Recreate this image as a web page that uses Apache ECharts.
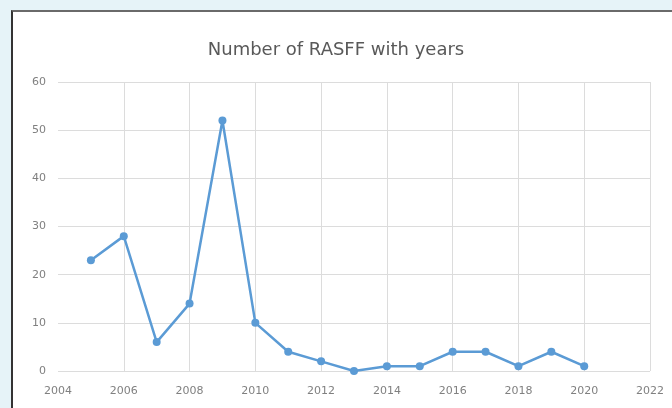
<!DOCTYPE html>
<html>
<head>
<meta charset="utf-8">
<script src="https://cdn.jsdelivr.net/npm/echarts@6/dist/echarts.min.js"></script>
<style>
	html, body { margin: 0; padding: 0; }
	body { width: 672px; height: 408px; background: #e6f3f8; position: relative; overflow: hidden; }
	#frame { position: absolute; left: 11px; top: 10px; width: 680px; height: 420px; background: #fff;
		border-left: 2px solid #333; border-top: 2px solid #6a6a6a; }
	#main { position: absolute; left: 0; top: 0; width: 672px; height: 408px; }
</style>
</head>
<body>
	<div id="frame"></div>
	<div id="main"></div>
<script>
	// RASFF notifications per year
	var years = [2005, 2006, 2007, 2008, 2009, 2010, 2011, 2012, 2013, 2014, 2015, 2016, 2017, 2018, 2019, 2020];
	var counts = [23, 28, 6, 14, 52, 10, 4, 2, 0, 1, 1, 4, 4, 1, 4, 1];

	var points = [];
	for (var i = 0; i < years.length; i++) {
		points.push([years[i], counts[i]]);
	}

	var myChart = echarts.init(document.getElementById('main'));
	var option = {
		animation: false,
		title: {
			text: 'Number of RASFF with years',
			left: 'center',
			top: 36,
			textStyle: { color: '#595959', fontSize: 18, fontWeight: 'normal', fontFamily: 'DejaVu Sans' }
		},
		grid: { left: 58, right: 22, top: 82, bottom: 37 },
		xAxis: {
			type: 'value',
			min: 2004,
			max: 2022,
			interval: 2,
			axisLine: { show: false },
			axisTick: { show: false },
			axisLabel: {
				color: '#808080', fontSize: 11, margin: 15, fontFamily: 'DejaVu Sans',
				formatter: function(v) { return String(v); }
			},
			splitLine: { showMinLine: false, lineStyle: { color: '#dcdcdc' } }
		},
		yAxis: {
			type: 'value',
			min: 0,
			max: 60,
			interval: 10,
			axisLine: { show: false },
			axisTick: { show: false },
			axisLabel: { color: '#808080', fontSize: 11, margin: 12, fontFamily: 'DejaVu Sans' },
			splitLine: { lineStyle: { color: '#dcdcdc' } }
		},
		series: [{
			type: 'line',
			data: points,
			symbol: 'circle',
			symbolSize: 8,
			lineStyle: { color: '#5b9bd5', width: 2.5 },
			itemStyle: { color: '#5b9bd5' }
		}]
	};
	myChart.setOption(option);
</script>
</body>
</html>
